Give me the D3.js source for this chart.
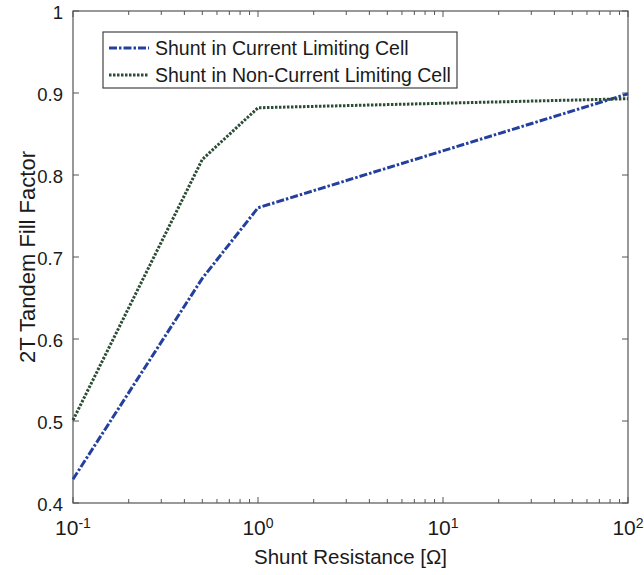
<!DOCTYPE html>
<html>
<head>
<meta charset="utf-8">
<script src="https://cdn.jsdelivr.net/npm/d3@7"></script>
<style>
  html, body { margin: 0; padding: 0; background: #fff; }
  svg { display: block; font-family: Arial, "Liberation Sans", sans-serif; }
</style>
</head>
<body>
<svg id="chart" width="644" height="575"></svg>
<script>
// Shunt resistance (ohm) sample points
const shuntResistance = [0.1, 0.5, 1, 100];
// 2T tandem fill factor for each shunt placement
const ffCurrentLimiting = [0.429, 0.674, 0.760, 0.899];
const ffNonCurrentLimiting = [0.501, 0.819, 0.882, 0.893];

const seriesNames = ["Shunt in Current Limiting Cell", "Shunt in Non-Current Limiting Cell"];
const yTicks = [0.4, 0.5, 0.6, 0.7, 0.8, 0.9, 1];
const yTickLabels = ["0.4", "0.5", "0.6", "0.7", "0.8", "0.9", "1"];
const xDecades = [-1, 0, 1, 2];
const xDecadeLabels = ["-1", "0", "1", "2"];

const svg = d3.select("#chart");
const m = { left: 73, right: 628, top: 11, bottom: 503 };

const x = d3.scaleLog().domain([0.1, 100]).range([m.left, m.right]);
const y = d3.scaleLinear().domain([0.4, 1]).range([m.bottom, m.top]);

const axisColor = "#555";
const textColor = "#1a1a1a";
const tickLen = 5;

// minor ticks for the log axis
const minor = [];
for (let d = -1; d < 2; d++) for (let k = 2; k <= 9; k++) minor.push(k * Math.pow(10, d));
const major = xDecades.map(d => Math.pow(10, d));

const g = svg.append("g");

// bottom/top ticks (inward)
[[m.bottom, -1], [m.top, 1]].forEach(([yy, dir]) => {
  g.selectAll(null).data(major.concat(minor)).enter().append("line")
    .attr("x1", d => x(d)).attr("x2", d => x(d))
    .attr("y1", yy).attr("y2", d => yy + dir * (major.includes(d) ? tickLen + 1 : tickLen - 1))
    .attr("stroke", axisColor).attr("stroke-width", 1);
});
// left/right y ticks (inward)
[[m.left, 1], [m.right, -1]].forEach(([xx, dir]) => {
  g.selectAll(null).data(yTicks).enter().append("line")
    .attr("x1", xx).attr("x2", xx + dir * (tickLen + 1))
    .attr("y1", d => y(d)).attr("y2", d => y(d))
    .attr("stroke", axisColor).attr("stroke-width", 1);
});

// axes box
g.append("rect")
  .attr("x", m.left).attr("y", m.top)
  .attr("width", m.right - m.left).attr("height", m.bottom - m.top)
  .attr("fill", "none").attr("stroke", axisColor).attr("stroke-width", 1.2);

// y tick labels
g.selectAll(null).data(yTicks).enter().append("text")
  .attr("x", m.left - 10).attr("y", d => y(d) + 7.5)
  .attr("text-anchor", "end").attr("font-size", 18.5).attr("fill", textColor)
  .text((d, i) => yTickLabels[i]);

// x tick labels: 10^n
xDecades.forEach((n, i) => {
  const t = g.append("text")
    .attr("x", x(Math.pow(10, n))).attr("y", m.bottom + 32)
    .attr("text-anchor", "middle").attr("font-size", 21).attr("fill", textColor);
  t.append("tspan").text("10");
  t.append("tspan").attr("dy", -7).attr("font-size", 14).text(xDecadeLabels[i]);
});

// axis titles
g.append("text")
  .attr("x", (m.left + m.right) / 2).attr("y", 564)
  .attr("text-anchor", "middle").attr("font-size", 20.5).attr("fill", textColor)
  .text("Shunt Resistance [Ω]");
g.append("text")
  .attr("transform", `translate(35,${(m.top + m.bottom) / 2}) rotate(-90)`)
  .attr("text-anchor", "middle").attr("font-size", 22).attr("fill", textColor)
  .text("2T Tandem Fill Factor");

// data lines
const line = d3.line().x(d => x(d[0])).y(d => y(d[1]));
const series = [
  { name: seriesNames[0], values: ffCurrentLimiting, color: "#24409e", dash: "8,2,2.5,2" },
  { name: seriesNames[1], values: ffNonCurrentLimiting, color: "#2b4d35", dash: "2.5,1.5" }
];
const plot = svg.append("g");
series.forEach(s => {
  plot.append("path")
    .datum(shuntResistance.map((r, i) => [r, s.values[i]]))
    .attr("d", line)
    .attr("fill", "none").attr("stroke", s.color)
    .attr("stroke-width", 3).attr("stroke-dasharray", s.dash)
    .attr("stroke-linejoin", "round");
});

// legend
const leg = svg.append("g");
leg.append("rect").attr("x", 103).attr("y", 32).attr("width", 354).attr("height", 56)
  .attr("fill", "#fff").attr("stroke", "#444").attr("stroke-width", 1.2);
series.forEach((s, i) => {
  const yy = 48 + i * 27;
  leg.append("line").attr("x1", 109).attr("x2", 149).attr("y1", yy).attr("y2", yy)
    .attr("stroke", s.color).attr("stroke-width", 3).attr("stroke-dasharray", s.dash);
  leg.append("text").attr("x", 155).attr("y", yy + 7)
    .attr("font-size", 19.5).attr("fill", textColor).text(s.name);
});
</script>
</body>
</html>
